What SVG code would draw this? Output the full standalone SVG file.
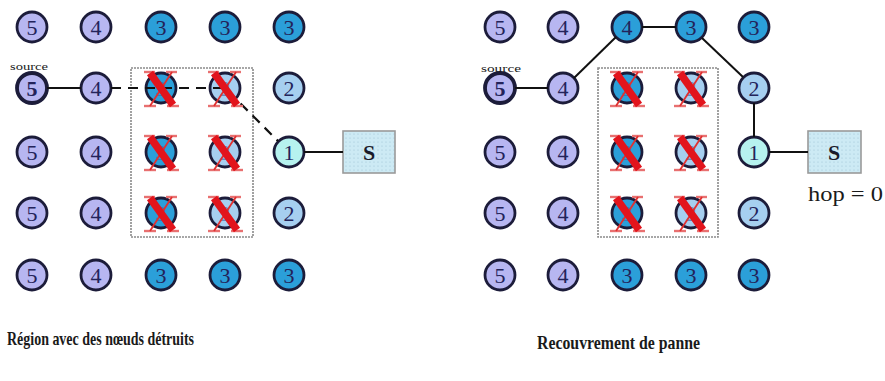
<svg xmlns="http://www.w3.org/2000/svg" width="885" height="381" viewBox="0 0 885 381">
  <defs>
    <pattern id="dots" width="4" height="4" patternUnits="userSpaceOnUse">
      <rect width="4" height="4" fill="#cdeaf4"/>
      <circle cx="2" cy="2" r="0.6" fill="#9fc4d4"/>
    </pattern>
    <!-- red cross-out mark, centred on 0,0 -->
    <g id="cross">
      <line x1="-17" y1="-16" x2="-6" y2="-16" stroke="#e87070" stroke-width="2.4"/>
      <line x1="5" y1="-16" x2="16" y2="-16" stroke="#e87070" stroke-width="2.4"/>
      <line x1="-17" y1="18" x2="-5" y2="18" stroke="#e87070" stroke-width="2.4"/>
      <line x1="6" y1="18" x2="18" y2="18" stroke="#e87070" stroke-width="2.4"/>
      <line x1="11" y1="-16" x2="-11" y2="18" stroke="#e03030" stroke-width="1.8"/>
      <line x1="-11" y1="-15" x2="12" y2="17" stroke="#e2141c" stroke-width="7.5" stroke-linecap="butt"/>
    </g>
  </defs>
  <style>
    .n circle { stroke: #1c1c3a; stroke-width: 2.8; }
    .n text { font-family: "Liberation Serif", "DejaVu Serif", serif; font-size: 22px; fill: #23235a; text-anchor: middle; }
    .lav circle { fill: #b7b6f1; }
    .blu circle { fill: #2b9fd9; }
    .lt circle { fill: #a6cff0; }
    .cy circle { fill: #b6f2ef; }
    .dead text { fill: #3a5a9a; opacity: 0.6; }
    .src circle { stroke-width: 3.8; }
    .src text { font-weight: bold; }
    .region { fill: none; stroke: #8a8a8a; stroke-width: 1.6; stroke-dasharray: 2 1; }
    .sink rect { fill: url(#dots); stroke: #9a9a9a; stroke-width: 1.6; }
    .sink text { font-family: "Liberation Serif", serif; font-size: 22px; font-weight: bold; fill: #1a1a2a; text-anchor: middle; }
    .lbl { font-family: "Liberation Serif", "DejaVu Serif", serif; fill: #1a1a1a; }
    .link { stroke: #111; stroke-width: 2; fill: none; }
    .dash { stroke: #111; stroke-width: 2.2; fill: none; stroke-dasharray: 10 7; }
  </style>

  <!-- left panel: region with destroyed nodes -->
  <rect class="region" x="131" y="68" width="122" height="169"/>
  <g id="left-nodes">
    <g id="L11" class="n lav"><circle cx="32" cy="27" r="15"/><text x="32" y="35">5</text></g>
    <g id="L12" class="n lav"><circle cx="96" cy="27" r="15"/><text x="96" y="35">4</text></g>
    <g id="L13" class="n blu"><circle cx="161" cy="27" r="15"/><text x="161" y="35">3</text></g>
    <g id="L14" class="n blu"><circle cx="225" cy="27" r="15"/><text x="225" y="35">3</text></g>
    <g id="L15" class="n blu"><circle cx="289" cy="27" r="15"/><text x="289" y="35">3</text></g>

    <g id="L21" class="n lav src"><circle cx="32" cy="88" r="15"/><text x="32" y="96">5</text></g>
    <g id="L22" class="n lav"><circle cx="96" cy="88" r="15"/><text x="96" y="96">4</text></g>
    <g id="L23" class="n blu dead"><circle cx="161" cy="88" r="15"/><text x="161" y="96">3</text></g>
    <g id="L24" class="n lt dead"><circle cx="225" cy="88" r="15"/><text x="225" y="96">2</text></g>
    <g id="L25" class="n lt"><circle cx="289" cy="88" r="15"/><text x="289" y="96">2</text></g>

    <g id="L31" class="n lav"><circle cx="32" cy="152" r="15"/><text x="32" y="160">5</text></g>
    <g id="L32" class="n lav"><circle cx="96" cy="152" r="15"/><text x="96" y="160">4</text></g>
    <g id="L33" class="n blu dead"><circle cx="161" cy="152" r="15"/><text x="161" y="160">3</text></g>
    <g id="L34" class="n lt dead"><circle cx="225" cy="152" r="15"/><text x="225" y="160">2</text></g>
    <g id="L35" class="n cy"><circle cx="289" cy="152" r="15"/><text x="289" y="160">1</text></g>

    <g id="L41" class="n lav"><circle cx="32" cy="213" r="15"/><text x="32" y="221">5</text></g>
    <g id="L42" class="n lav"><circle cx="96" cy="213" r="15"/><text x="96" y="221">4</text></g>
    <g id="L43" class="n blu dead"><circle cx="161" cy="213" r="15"/><text x="161" y="221">3</text></g>
    <g id="L44" class="n lt dead"><circle cx="225" cy="213" r="15"/><text x="225" y="221">2</text></g>
    <g id="L45" class="n lt"><circle cx="289" cy="213" r="15"/><text x="289" y="221">2</text></g>

    <g id="L51" class="n lav"><circle cx="32" cy="275" r="15"/><text x="32" y="283">5</text></g>
    <g id="L52" class="n lav"><circle cx="96" cy="275" r="15"/><text x="96" y="283">4</text></g>
    <g id="L53" class="n blu"><circle cx="161" cy="275" r="15"/><text x="161" y="283">3</text></g>
    <g id="L54" class="n blu"><circle cx="225" cy="275" r="15"/><text x="225" y="283">3</text></g>
    <g id="L55" class="n blu"><circle cx="289" cy="275" r="15"/><text x="289" y="283">3</text></g>
  </g>
  <g id="L-sink" class="sink"><rect x="343" y="131" width="52" height="42"/><text x="369" y="160">S</text></g>

  <!-- right panel: failure recovery -->
  <rect class="region" x="598" y="68" width="120" height="169"/>
  <g id="right-nodes">
    <g id="R11" class="n lav"><circle cx="500" cy="27" r="15"/><text x="500" y="35">5</text></g>
    <g id="R12" class="n lav"><circle cx="563" cy="27" r="15"/><text x="563" y="35">4</text></g>
    <g id="R13" class="n blu"><circle cx="627" cy="27" r="15"/><text x="627" y="35">4</text></g>
    <g id="R14" class="n blu"><circle cx="691" cy="27" r="15"/><text x="691" y="35">3</text></g>
    <g id="R15" class="n blu"><circle cx="754" cy="27" r="15"/><text x="754" y="35">3</text></g>

    <g id="R21" class="n lav src"><circle cx="500" cy="88" r="15"/><text x="500" y="96">5</text></g>
    <g id="R22" class="n lav"><circle cx="563" cy="88" r="15"/><text x="563" y="96">4</text></g>
    <g id="R23" class="n blu dead"><circle cx="627" cy="88" r="15"/><text x="627" y="96">3</text></g>
    <g id="R24" class="n lt dead"><circle cx="691" cy="88" r="15"/><text x="691" y="96">2</text></g>
    <g id="R25" class="n lt"><circle cx="754" cy="88" r="15"/><text x="754" y="96">2</text></g>

    <g id="R31" class="n lav"><circle cx="500" cy="152" r="15"/><text x="500" y="160">5</text></g>
    <g id="R32" class="n lav"><circle cx="563" cy="152" r="15"/><text x="563" y="160">4</text></g>
    <g id="R33" class="n blu dead"><circle cx="627" cy="152" r="15"/><text x="627" y="160">3</text></g>
    <g id="R34" class="n lt dead"><circle cx="691" cy="152" r="15"/><text x="691" y="160">2</text></g>
    <g id="R35" class="n cy"><circle cx="754" cy="152" r="15"/><text x="754" y="160">1</text></g>

    <g id="R41" class="n lav"><circle cx="500" cy="213" r="15"/><text x="500" y="221">5</text></g>
    <g id="R42" class="n lav"><circle cx="563" cy="213" r="15"/><text x="563" y="221">4</text></g>
    <g id="R43" class="n blu dead"><circle cx="627" cy="213" r="15"/><text x="627" y="221">3</text></g>
    <g id="R44" class="n lt dead"><circle cx="691" cy="213" r="15"/><text x="691" y="221">2</text></g>
    <g id="R45" class="n lt"><circle cx="754" cy="213" r="15"/><text x="754" y="221">2</text></g>

    <g id="R51" class="n lav"><circle cx="500" cy="275" r="15"/><text x="500" y="283">5</text></g>
    <g id="R52" class="n lav"><circle cx="563" cy="275" r="15"/><text x="563" y="283">4</text></g>
    <g id="R53" class="n blu"><circle cx="627" cy="275" r="15"/><text x="627" y="283">3</text></g>
    <g id="R54" class="n blu"><circle cx="691" cy="275" r="15"/><text x="691" y="283">3</text></g>
    <g id="R55" class="n blu"><circle cx="754" cy="275" r="15"/><text x="754" y="283">3</text></g>
  </g>
  <g id="R-sink" class="sink"><rect x="808" y="131" width="53" height="42"/><text x="834" y="160">S</text></g>

  <!-- connectors -->
  <g id="connectors">
    <line class="link" x1="47" y1="88" x2="81" y2="88"/>
    <path class="dash" d="M111,88 H225 L278,141"/>
    <line class="link" x1="304" y1="152" x2="343" y2="152"/>

    <line class="link" x1="515" y1="88" x2="548" y2="88"/>
    <line class="link" x1="574" y1="78" x2="616" y2="37"/>
    <line class="link" x1="642" y1="27" x2="676" y2="27"/>
    <line class="link" x1="702" y1="38" x2="743" y2="77"/>
    <line class="link" x1="754" y1="103" x2="754" y2="137"/>
    <line class="link" x1="769" y1="152" x2="808" y2="152"/>
  </g>

  <!-- cross-out marks on destroyed nodes -->
  <g id="crosses">
    <use href="#cross" x="161" y="88"/><use href="#cross" x="225" y="88"/>
    <use href="#cross" x="161" y="152"/><use href="#cross" x="225" y="152"/>
    <use href="#cross" x="161" y="213"/><use href="#cross" x="225" y="213"/>
    <use href="#cross" x="627" y="88"/><use href="#cross" x="691" y="88"/>
    <use href="#cross" x="627" y="152"/><use href="#cross" x="691" y="152"/>
    <use href="#cross" x="627" y="213"/><use href="#cross" x="691" y="213"/>
  </g>

  <!-- labels -->
  <text class="lbl" x="10" y="70" font-size="10" fill="#444" textLength="38" lengthAdjust="spacingAndGlyphs">source</text>
  <text class="lbl" x="481" y="72" font-size="11" textLength="40" lengthAdjust="spacingAndGlyphs">source</text>
  <text class="lbl" x="808" y="201" font-size="20" textLength="75" lengthAdjust="spacingAndGlyphs">hop = 0</text>
  <text class="lbl" x="7" y="345" font-size="19" font-weight="bold" textLength="187" lengthAdjust="spacingAndGlyphs">Région avec des nœuds détruits</text>
  <text class="lbl" x="537" y="349" font-size="19" font-weight="bold" textLength="163" lengthAdjust="spacingAndGlyphs">Recouvrement de panne</text>
</svg>
